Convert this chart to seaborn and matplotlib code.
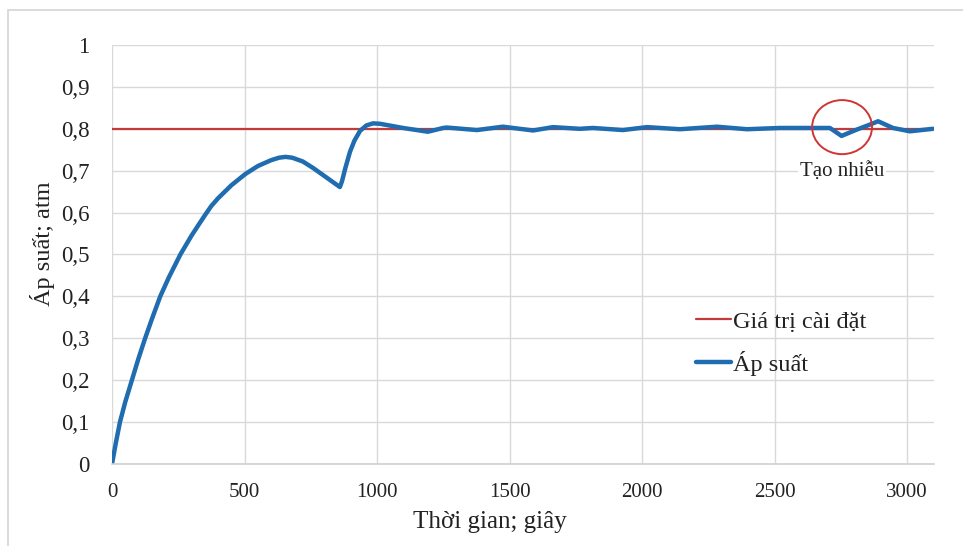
import matplotlib
matplotlib.use("Agg")
import matplotlib.pyplot as plt
import seaborn as sns
import pandas as pd
from matplotlib.patches import Ellipse, Rectangle

# ---- data ----
time_s = [0, 15, 30, 50, 75, 100, 125, 150, 182, 215, 258, 300, 330, 352, 375, 400,
          450, 503, 550, 600, 630, 655, 680, 720, 760, 800, 840, 860, 868, 880, 898,
          915, 936, 960, 985, 1011, 1098, 1192, 1250, 1264, 1377, 1475, 1589, 1664,
          1765, 1815, 1928, 2019, 2143, 2283, 2396, 2521, 2709, 2753, 2810, 2860,
          2891, 2947, 3011, 3098]
pressure = [0, 0.052, 0.1, 0.148, 0.2, 0.252, 0.3, 0.345, 0.4, 0.446, 0.5, 0.545,
            0.574, 0.595, 0.616, 0.634, 0.665, 0.692, 0.711, 0.725, 0.731, 0.733,
            0.731, 0.722, 0.706, 0.688, 0.670, 0.661, 0.675, 0.705, 0.745, 0.772,
            0.795, 0.808, 0.813, 0.812, 0.802, 0.793, 0.802, 0.803, 0.797, 0.805,
            0.796, 0.804, 0.800, 0.802, 0.797, 0.804, 0.799, 0.805, 0.799, 0.802,
            0.802, 0.783, 0.798, 0.81, 0.818, 0.802, 0.794, 0.800]
setpoint_t = [0, 3100]
setpoint_v = [0.8, 0.8]

x_ticks = [0, 500, 1000, 1500, 2000, 2500, 3000]
y_ticks = [0, 0.1, 0.2, 0.3, 0.4, 0.5, 0.6, 0.7, 0.8, 0.9, 1.0]
y_tick_labels = ["0", "0,1", "0,2", "0,3", "0,4", "0,5", "0,6", "0,7", "0,8", "0,9", "1"]

label_set = "Giá trị cài đặt"
label_p = "Áp suất"
x_label = "Thời gian; giây"
y_label = "Áp suất; atm"
note = "Tạo nhiễu"

# ---- style ----
sns.set_theme(style="white")
plt.rcParams["font.family"] = ["Liberation Serif", "DejaVu Serif"]

fig = plt.figure(figsize=(9.63, 5.46), dpi=100)
ax = fig.add_axes([112 / 963, 1 - 464 / 546, (933.5 - 112) / 963, (464 - 45) / 546])
W = 933.5 - 112
H = 464 - 45

# figure border (light gray frame)
fig.patches.append(Rectangle((8 / 963, -0.1), 1.2, (546 - 10) / 546 + 0.1,
                             transform=fig.transFigure, fill=False,
                             edgecolor="#d4d4d4", lw=1.2, zorder=0))

red = "#c43a3a"
blue = "#1f6cb0"

df_set = pd.DataFrame({"t": setpoint_t, "v": setpoint_v})
df_p = pd.DataFrame({"t": time_s, "v": pressure})

sns.lineplot(data=df_set, x="t", y="v", ax=ax, color=red, lw=1.6, label=label_set)
sns.lineplot(data=df_p, x="t", y="v", ax=ax, color=blue, lw=3.2, label=label_p,
             solid_capstyle="round", solid_joinstyle="round")

ax.set_xlim(0, 3100)
ax.set_ylim(0, 1)
ax.set_xticks(x_ticks)
ax.set_xticklabels([str(v) for v in x_ticks])
ax.set_yticks(y_ticks)
ax.set_yticklabels(y_tick_labels)
ax.tick_params(axis="both", length=0, colors="#222222")
ax.tick_params(axis="x", labelsize=15, pad=14)
ax.tick_params(axis="y", labelsize=16.5, pad=16)

ax.grid(True, color="#d9d9d9", lw=1)
ax.set_axisbelow(True)
for s in ["top", "right", "left"]:
    ax.spines[s].set_visible(False)
ax.spines["bottom"].set_color("#d0d0d0")
ax.spines["bottom"].set_linewidth(1.2)

ax.set_xlabel(x_label, fontsize=18, color="#222222")
ax.set_ylabel(y_label, fontsize=17.5, color="#222222")
ax.xaxis.set_label_coords((490 - 112) / W, -(511 - 464) / H)
ax.yaxis.set_label_coords(-(112 - 55) / W, (464 - 244) / H)

# disturbance marker
ax.add_patch(Ellipse((2755, 0.804), width=226, height=0.129, fill=False,
                     edgecolor="#d03535", lw=1.4, zorder=5))
ax.text(2755, 0.695, note, fontsize=15, ha="center", va="center", color="#222222",
        bbox=dict(facecolor="white", edgecolor="none", pad=1.5), zorder=6)

leg = ax.legend(loc="upper left", bbox_to_anchor=((686 - 112) / W, (464 - 301) / H),
                frameon=False, fontsize=17.5, handlelength=1.45, handletextpad=0.1,
                labelspacing=0.75, borderaxespad=0)
for t in leg.get_texts():
    t.set_color("#222222")

fig.savefig("out.png", dpi=100)
